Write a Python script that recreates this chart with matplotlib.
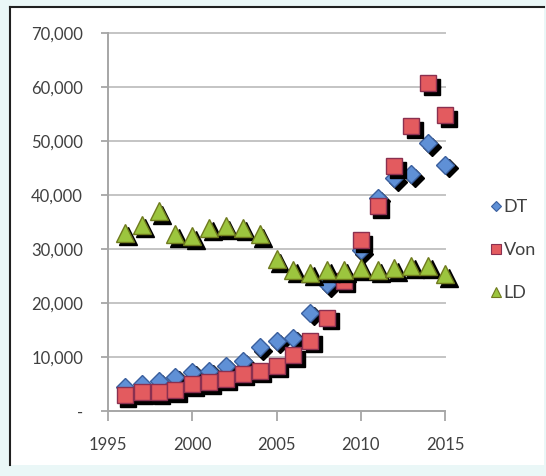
import matplotlib.pyplot as plt
import matplotlib.transforms as mtransforms
from matplotlib.patches import Rectangle
from matplotlib.lines import Line2D

years = list(range(1996, 2016))
dt = [4400, 5000, 5600, 6300, 7300, 7500, 8400, 9300, 11800, 13000,
      13600, 18200, 23500, 25000, 29800, 39500, 43100, 43800, 49600, 45600]
von = [2900, 3500, 3500, 3800, 5000, 5300, 6000, 6900, 7500, 8400,
       10300, 13000, 17300, 24100, 31600, 37900, 45300, 52700, 60700, 54800]
ld = [33000, 34500, 37000, 32700, 32400, 33900, 34200, 33900, 32700, 28100,
      26200, 25600, 26200, 26200, 26500, 26200, 26400, 26900, 26900, 25300]

yticks = [0, 10000, 20000, 30000, 40000, 50000, 60000, 70000]
ytick_labels = ["-", "10,000", "20,000", "30,000", "40,000", "50,000", "60,000", "70,000"]
xticks = [1995, 2000, 2005, 2010, 2015]

plt.rcParams['font.family'] = ['Lato', 'DejaVu Sans']
txt = '#404040'
axcol = '#a6a6a6'

fig = plt.figure(figsize=(5.46, 4.76), dpi=100)
fig.patch.set_facecolor('#eaf7f7')
# white panel with dark frame on left/top
fig.patches.append(Rectangle((10 / 546, 1 - 465 / 476), 534 / 546, 458 / 476,
                             transform=fig.transFigure, facecolor='white',
                             edgecolor='none', zorder=-5))
fig.add_artist(Line2D([10 / 546, 10 / 546], [1 - 465 / 476, 1 - 7 / 476],
                      transform=fig.transFigure, color='#202020', lw=1.5, zorder=-4))
fig.add_artist(Line2D([10 / 546, 544 / 546], [1 - 7 / 476, 1 - 7 / 476],
                      transform=fig.transFigure, color='#202020', lw=1.5, zorder=-4))

ax = fig.add_axes([108 / 546, 1 - 411 / 476, 337 / 546, 378 / 476])
ax.set_facecolor('none')
ax.set_xlim(1995, 2015)
ax.set_ylim(0, 70000)
ax.set_yticks(yticks)
ax.set_yticklabels(ytick_labels)
ax.set_xticks(xticks)
ax.tick_params(axis='y', length=5, width=1.3, color=axcol, pad=13,
               labelsize=12, labelcolor=txt)
ax.tick_params(axis='x', length=7, width=1.3, color=axcol, pad=12,
               labelsize=12, labelcolor=txt)
for y in yticks[1:]:
    ax.axhline(y, color='#c4c4c4', lw=1.4, zorder=1, clip_on=False)
for s in ['top', 'right']:
    ax.spines[s].set_visible(False)
for s in ['left', 'bottom']:
    ax.spines[s].set_color(axcol)
    ax.spines[s].set_linewidth(1.4)

shadow = mtransforms.offset_copy(ax.transData, fig=fig, x=3.5, y=-3.5, units='dots')

series = [
    (dt, 'D', 9.0, '#5f90d6', '#3a5f9e', 'DT'),
    (von, 's', 12.0, '#e35b5f', '#8a3050', 'Von'),
    (ld, '^', 12.5, '#9cc53e', '#6f7a1e', 'LD'),
]
z = 3
for vals, mk, ms, fc, ec, name in series:
    ax.plot(years, vals, linestyle='none', marker=mk, markersize=ms,
            color='black', transform=shadow, zorder=z, clip_on=False)
    ax.plot(years, vals, linestyle='none', marker=mk, markersize=ms,
            markerfacecolor=fc, markeredgecolor=ec, markeredgewidth=1.0,
            zorder=z + 1, clip_on=False, label=name)
    z += 2

handles = [Line2D([], [], linestyle='none', marker=mk, markersize=ms * 0.6,
                  markerfacecolor=fc, markeredgecolor=ec, markeredgewidth=0.8)
           for _, mk, ms, fc, ec, _ in series]
fig.legend(handles, [s[5] for s in series], loc='center left',
           bbox_to_anchor=(491 / 546, 1 - 250 / 476), frameon=False,
           fontsize=13, labelcolor=txt, handlelength=0.55, handletextpad=0.15,
           labelspacing=1.5, borderpad=0, borderaxespad=0)

fig.savefig('out.png', dpi=100, facecolor=fig.get_facecolor())
